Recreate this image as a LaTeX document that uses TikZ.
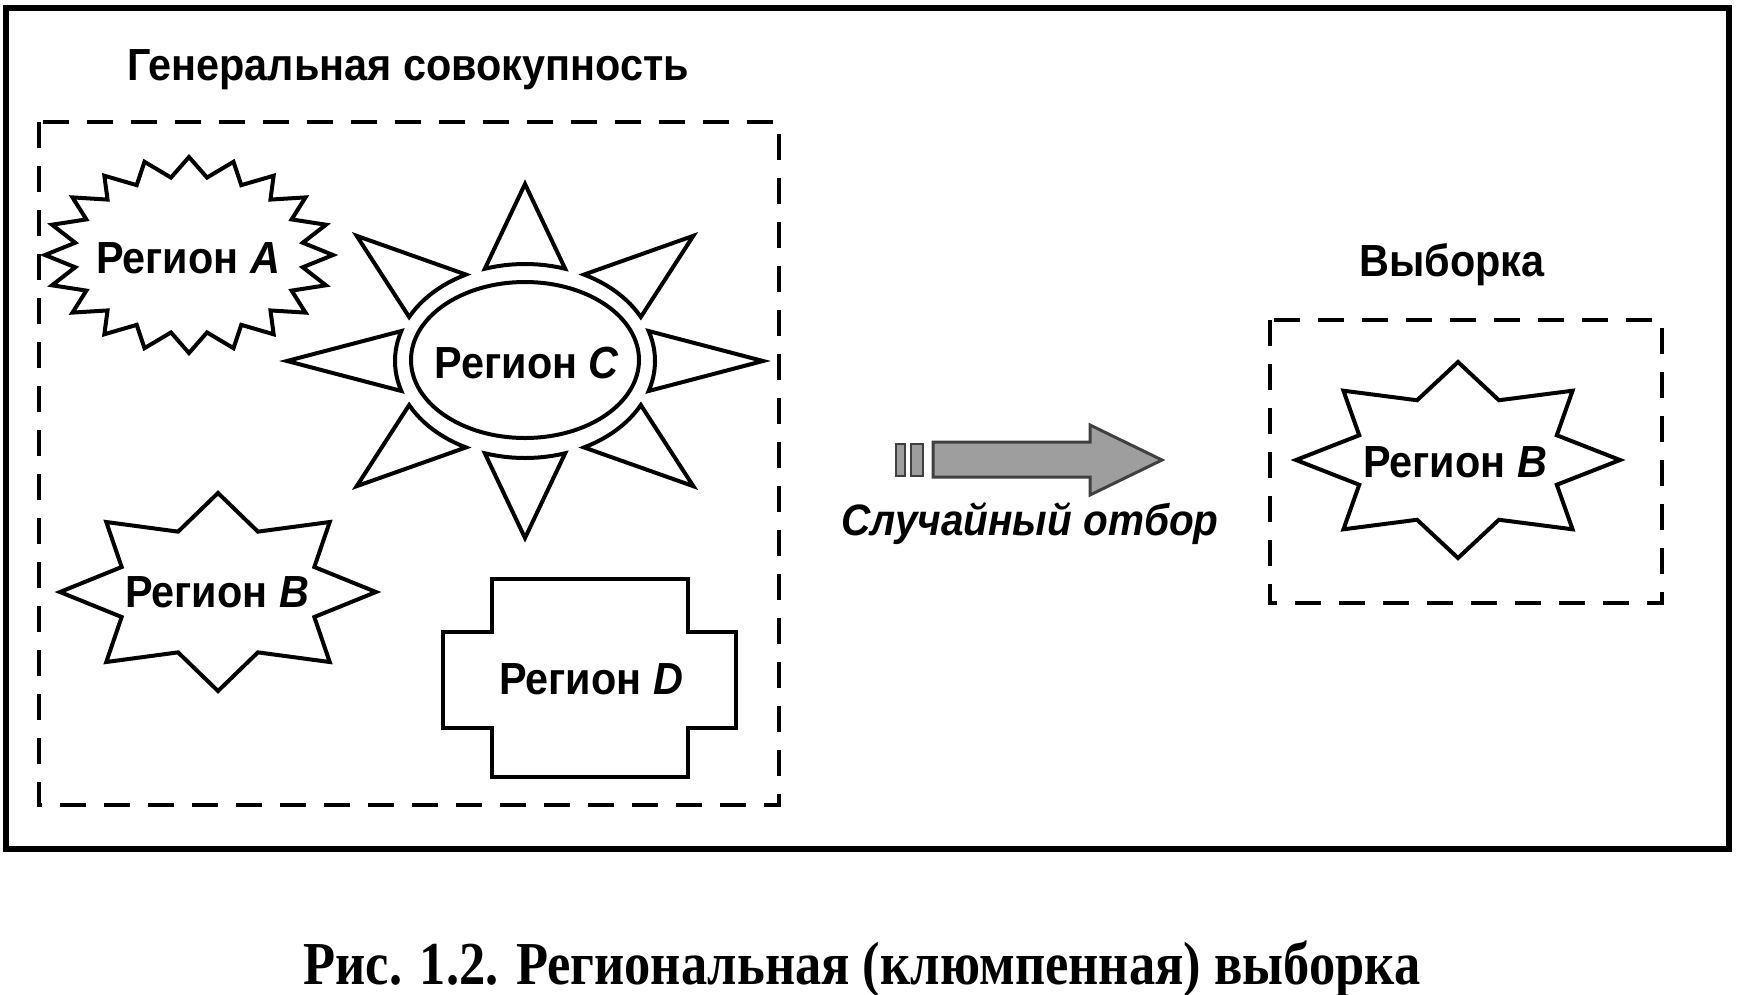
\documentclass[tikz,border=0pt]{standalone}
\usepackage{fontspec}
\setmainfont{Liberation Sans}[FakeStretch=0.92]
\newfontfamily\capfont[FakeStretch=0.86]{Liberation Serif}
\begin{document}
\begin{tikzpicture}[x=1pt,y=-1pt,
  frame/.style={line width=6pt},
  dashbox/.style={line width=4.5pt, dash pattern=on 26pt off 18pt},
  shp/.style={line width=4pt, fill=white, line join=miter},
  lbl/.style={font=\fontsize{45}{52}\selectfont\bfseries, inner sep=0pt, anchor=base},
  arrowbody/.style={draw=black!75, line width=3pt, fill=black!38, line join=miter}]
\useasboundingbox (0,0) rectangle (1737,994);
% outer frame
\draw[frame] (6,8) rectangle (1729,849);
% population box
\draw[dashbox] (39,122) rectangle (779,805);
\node[lbl] (tgen) at (408,80) {Генеральная совокупность};
% Region A: starburst (20 points)
\draw[shp] plot[samples=41, domain=0:360, variable=\t]
  ({189+144*(1-0.2*mod(round(\t/9),2))*cos(\t)},{255-98*(1-0.2*mod(round(\t/9),2))*sin(\t)}) -- cycle;
\node[lbl] (ra) at (188,273) {Регион \textit{A}};
% Region C: sun
\foreach \a in {0,45,...,315}{
  \draw[shp] ({525+238*cos(\a)},{361-177*sin(\a)}) --
    plot[samples=13, domain=\a-18:\a+18, variable=\t] ({525+130*cos(\t)},{361-97*sin(\t)}) -- cycle;
}
\draw[shp] (525,360) ellipse [x radius=114pt, y radius=78pt];
\node[lbl] (rc) at (527,378) {Регион \textit{C}};
% Region B (left): 8-point star
\draw[shp] plot[samples=17, domain=0:360, variable=\t]
  ({218+158*(1-0.34*mod(round(\t/22.5),2))*cos(\t)},{592-99*(1-0.34*mod(round(\t/22.5),2))*sin(\t)}) -- cycle;
\node[lbl] (rb) at (217,607) {Регион \textit{B}};
% Region D: cross
\draw[shp] (492,579) -- (688,579) -- (688,632) -- (736,632) -- (736,728) -- (688,728) -- (688,777)
  -- (492,777) -- (492,728) -- (443,728) -- (443,632) -- (492,632) -- cycle;
\node[lbl] (rd) at (591,694) {Регион \textit{D}};
% arrow
\draw[arrowbody, line width=2.5pt] (896,444) rectangle (905,476);
\draw[arrowbody, line width=2.5pt] (911,444) rectangle (923,476);
\draw[arrowbody] (933,442) -- (1090,442) -- (1090,425) -- (1162,460) -- (1090,495) -- (1090,477) -- (933,477) -- cycle;
\node[lbl, font=\fontsize{44}{50}\selectfont\bfseries\itshape] (sel) at (1030,535) {Случайный отбор};
% sample box
\node[lbl] (tsam) at (1452,276) {Выборка};
\draw[dashbox] (1270,320) rectangle (1662,603);
\draw[shp] plot[samples=17, domain=0:360, variable=\t]
  ({1458+162*(1-0.34*mod(round(\t/22.5),2))*cos(\t)},{460-98*(1-0.34*mod(round(\t/22.5),2))*sin(\t)}) -- cycle;
\node[lbl] (rb2) at (1455,477) {Регион \textit{B}};
% caption
\node[inner sep=0pt, anchor=base, font=\fontsize{61}{70}\capfont\bfseries] (cap) at (862,984) {Рис. 1.2. Региональная (клюмпенная) выборка};
\end{tikzpicture}
\end{document}
